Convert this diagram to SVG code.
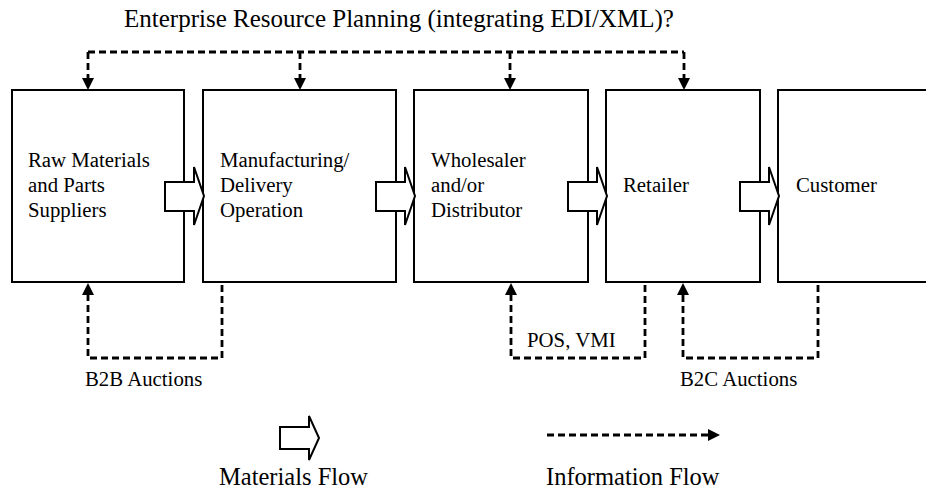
<svg xmlns="http://www.w3.org/2000/svg" xmlns:xlink="http://www.w3.org/1999/xlink" width="926" height="491" viewBox="0 0 926 491">
  <style>
    .box { fill: #fff; stroke: #000; stroke-width: 2; }
    .flow { fill: #fff; stroke: #000; stroke-width: 2; stroke-linejoin: miter; }
    .info { fill: none; stroke: #000; stroke-width: 2.8; stroke-dasharray: 7 4; }
    text { font-family: "Liberation Serif", "Times New Roman", serif; fill: #000; }
    .node { font-size: 20.8px; }
    .lbl { font-size: 20.8px; }
    .big { font-size: 24.5px; }
  </style>
  <defs>
    <marker id="head" viewBox="0 0 12 12" refX="0" refY="6" markerWidth="12" markerHeight="12" markerUnits="userSpaceOnUse" orient="auto">
      <path d="M0,0 L12,6 L0,12 Z" fill="#000"/>
    </marker>
    <!-- hollow block arrow for material flow between stages -->
    <path id="blockArrow" class="flow" d="M0,15 H29 V0 L39,29 L29,58 V44 H0 Z"/>
  </defs>

  <rect width="926" height="491" fill="#fff"/>

  <text x="124" y="27" font-size="25">Enterprise Resource Planning (integrating EDI/XML)?</text>

  <g id="raw-materials">
    <rect class="box" x="12" y="90" width="172" height="192"/>
    <text class="node" x="28" y="167">Raw Materials</text>
    <text class="node" x="28" y="192">and Parts</text>
    <text class="node" x="28" y="217">Suppliers</text>
  </g>

  <g id="manufacturing">
    <rect class="box" x="203" y="90" width="193" height="192"/>
    <text class="node" x="220" y="167">Manufacturing/</text>
    <text class="node" x="220" y="192">Delivery</text>
    <text class="node" x="220" y="217">Operation</text>
  </g>

  <g id="wholesaler">
    <rect class="box" x="414" y="90" width="174" height="192"/>
    <text class="node" x="431" y="167">Wholesaler</text>
    <text class="node" x="431" y="192">and/or</text>
    <text class="node" x="431" y="217">Distributor</text>
  </g>

  <g id="retailer">
    <rect class="box" x="606" y="90" width="154" height="192"/>
    <text class="node" x="623" y="192">Retailer</text>
  </g>

  <g id="customer">
    <rect class="box" x="778" y="90" width="160" height="192"/>
    <text class="node" x="796" y="192">Customer</text>
  </g>

  <g id="connectors">
    <!-- material flow -->
    <use xlink:href="#blockArrow" x="165" y="167"/>
    <use xlink:href="#blockArrow" x="376" y="167"/>
    <use xlink:href="#blockArrow" x="568" y="167"/>
    <use xlink:href="#blockArrow" x="740" y="167"/>

    <!-- ERP information bus -->
    <path class="info" d="M88,52 H684"/>
    <path class="info" d="M88,52 V78" marker-end="url(#head)"/>
    <path class="info" d="M300,52 V78" marker-end="url(#head)"/>
    <path class="info" d="M510,52 V78" marker-end="url(#head)"/>
    <path class="info" d="M684,52 V78" marker-end="url(#head)"/>

    <!-- B2B auctions -->
    <path class="info" d="M222,285 V358 H88 V295" marker-end="url(#head)"/>
    <!-- POS, VMI -->
    <path class="info" d="M645,285 V358 H511 V295" marker-end="url(#head)"/>
    <!-- B2C auctions -->
    <path class="info" d="M818,285 V358 H683 V295" marker-end="url(#head)"/>
  </g>

  <g id="labels">
    <text class="lbl" x="85" y="386">B2B Auctions</text>
    <text class="lbl" x="527" y="347">POS, VMI</text>
    <text class="lbl" x="680" y="386">B2C Auctions</text>
  </g>

  <g id="legend">
    <polygon class="flow" points="280,427 309,427 309,416 319,438 309,460 309,449 280,449"/>
    <text class="big" x="219" y="485">Materials Flow</text>
    <path class="info" d="M547,435 H708" marker-end="url(#head)"/>
    <text class="big" x="546" y="485">Information Flow</text>
  </g>
</svg>
